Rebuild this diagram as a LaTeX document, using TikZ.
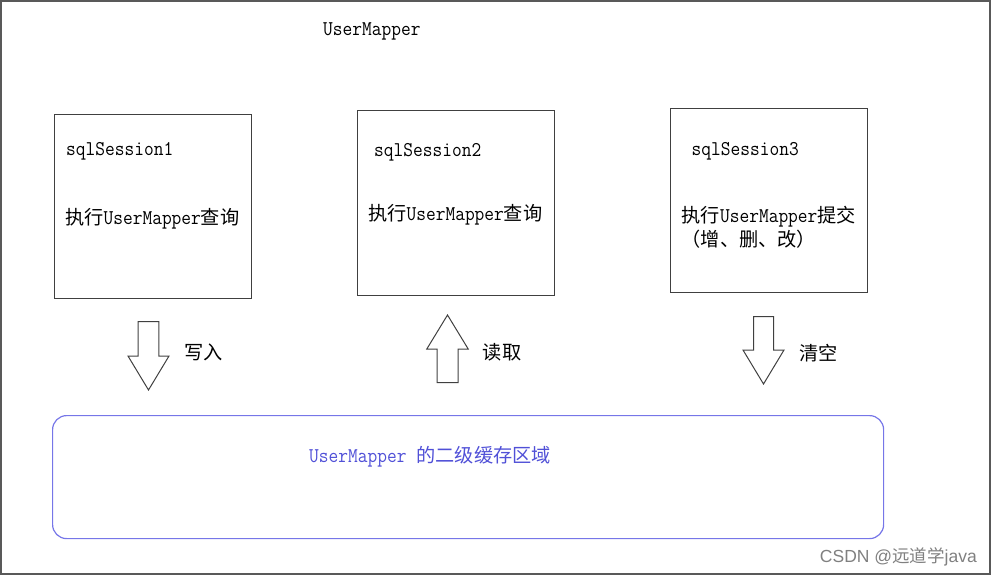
\documentclass[tikz,border=0pt]{standalone}
\usepackage{fontspec}
\setmainfont[FakeStretch=0.9]{Latin Modern Mono}
\newfontfamily\zhfont{Noto Sans CJK SC}
\newfontfamily\wmfont{Liberation Sans}
\newcommand\zh[1]{{\zhfont\fontsize{19.2}{23}\selectfont #1}}
\definecolor{cacheblue}{RGB}{118,118,232}
\definecolor{cachetext}{RGB}{80,80,215}

\begin{document}
\begin{tikzpicture}[x=1pt,y=-1pt,
  every node/.style={inner sep=0pt,font=\fontsize{21}{25}\selectfont},
  sessionbox/.style={draw=black!75,line width=1pt,anchor=north west},
  blockarrow/.style={draw=black!75,line width=1pt},
  txt/.style={anchor=base west}]
\useasboundingbox (0,0) rectangle (992,576);
\draw[black!65, line width=1.5pt] (1,1) rectangle (990,574);

\node[txt] (title) at (323,35) {UserMapper};

% three sessions
\node[sessionbox, minimum width=197, minimum height=184] (s1) at (54,114) {};
\node[txt] (s1name) at (66,155) {sqlSession1};
\node[txt] (s1op) at (65,224) {\zh{执行}UserMapper\zh{查询}};

\node[sessionbox, minimum width=197, minimum height=185] (s2) at (357,110) {};
\node[txt] (s2name) at (374,156) {sqlSession2};
\node[txt] (s2op) at (368,220) {\zh{执行}UserMapper\zh{查询}};

\node[sessionbox, minimum width=197, minimum height=184] (s3) at (670,108) {};
\node[txt] (s3name) at (691.5,155) {sqlSession3};
\node[txt] (s3op) at (681.5,222.5) {\zh{执行}UserMapper\zh{提交}};
\node[txt] (s3ops) at (681.5,246.5) {\zh{（增、删、改）}};

% block arrows
\draw[blockarrow] (138.2,321.7) -- ++(20.6,0) -- ++(0,34.3) -- ++(10.2,0)
  -- (148.5,390) -- (128,356) -- ++(10.2,0) -- cycle;
\node[txt] (write) at (184,359) {\zh{写入}};

\draw[blockarrow] (437,382.7) -- ++(21,0) -- ++(0,-33.7) -- ++(10.2,0)
  -- (447.5,315) -- (426.8,349) -- ++(10.2,0) -- cycle;
\node[txt] (read) at (482.7,359) {\zh{读取}};

\draw[blockarrow] (753.5,316.7) -- ++(20,0) -- ++(0,33.3) -- ++(10.5,0)
  -- (763.5,384) -- (743,350) -- ++(10.5,0) -- cycle;
\node[txt] (clear) at (799.3,360) {\zh{清空}};

% cache area
\node[draw=cacheblue, line width=1.2pt, rounded corners=14pt, anchor=north west,
  minimum width=831, minimum height=123] (cache) at (52,415) {};
\node[txt, text=cachetext] (cachename) at (309,462)
  {UserMapper\hspace{10pt}\zh{的二级缓存区域}};

\node[anchor=base east, font=\wmfont\fontsize{17.5}{20}\selectfont, text=black!50] (wm)
  at (977,562.5) {CSDN @{\zhfont 远道学}java};
\end{tikzpicture}
\end{document}
